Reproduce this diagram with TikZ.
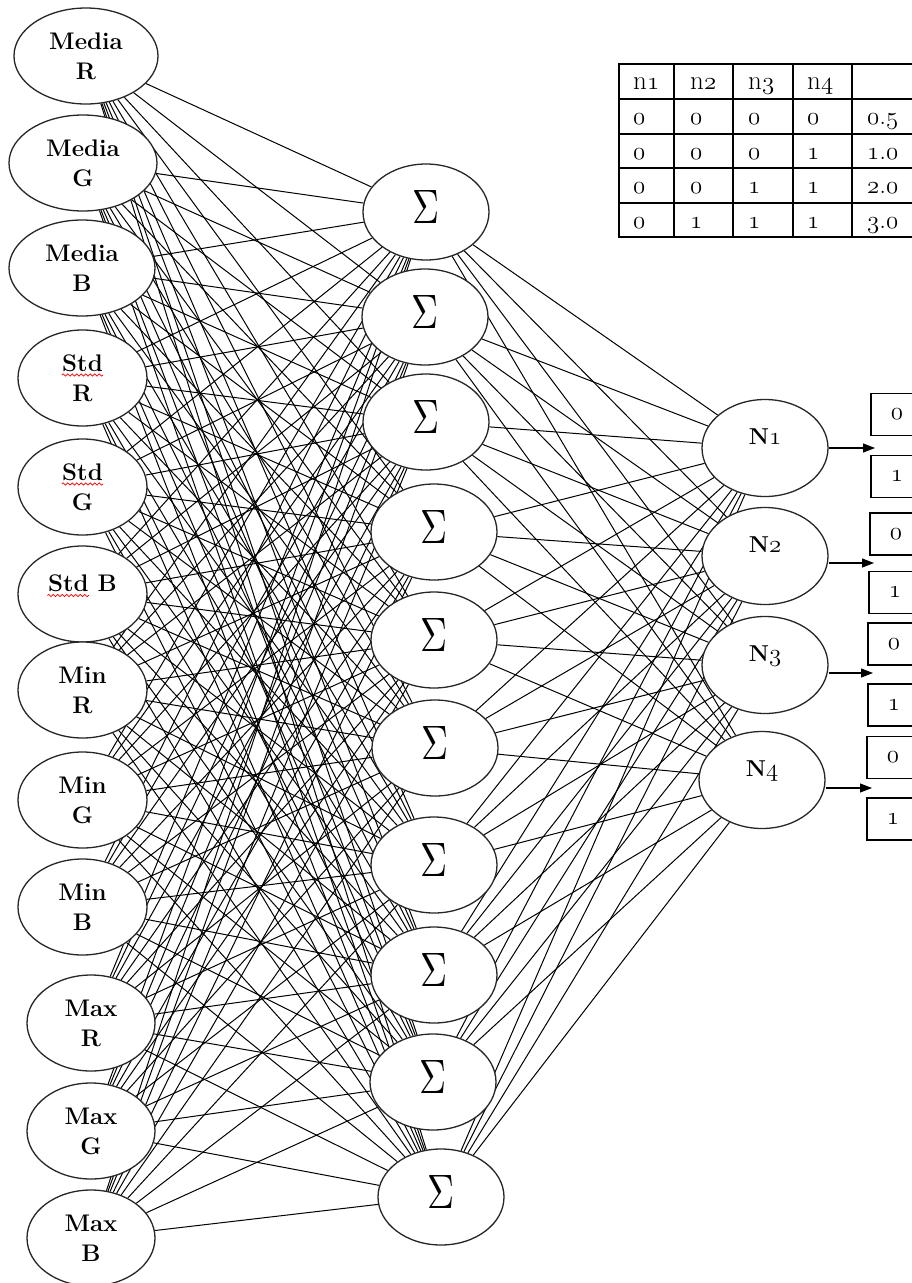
\documentclass[tikz,border=0pt]{standalone}
\usepackage{graphicx}
\usetikzlibrary{shapes.geometric,arrows.meta,backgrounds,decorations.pathmorphing}

% old-style figures taken from the (scalable) math italic fonts
\newcommand\osn[1]{{\usefont{OML}{lmm}{m}{it}#1}}
\newcommand\bosn[1]{{\usefont{OML}{lmm}{b}{it}#1}}
\newcommand\sumsign{{\fontsize{10}{12}\selectfont\scalebox{3.74}[4.83]{$\Sigma$}}}

\begin{document}
\begin{tikzpicture}[x=1pt,y=-1pt,
  ell/.style={ellipse, draw=black!85, line width=1.3pt, fill=white, inner sep=0pt,
    minimum width=129pt, minimum height=96pt, align=center,
    font=\fontsize{24}{30}\selectfont\bfseries},
  oneline/.style={text depth=22pt},
  sumnode/.style={ell, minimum width=126pt, text depth=10pt},
  outnode/.style={ell, minimum width=126pt, minimum height=97pt, text depth=22pt,
    font=\fontsize{23}{28}\selectfont\bfseries},
  link/.style={line width=1pt, black},
  spell/.style={red, line width=0.7pt, decorate,
    decoration={snake, amplitude=1.2pt, segment length=4.5pt}},
  outarrow/.style={line width=1.1pt, -{Triangle[length=12pt,width=9pt]}},
  bitbox/.style={draw, line width=1.5pt, anchor=west, minimum height=42pt,
    text width=24pt, inner xsep=20pt, inner ysep=0pt, align=left,
    font=\fontsize{23}{28}\selectfont\bfseries},
  grid/.style={line width=1.8pt},
  cell/.style={anchor=base west, inner sep=0pt, font=\fontsize{27}{30}\selectfont}
]
\useasboundingbox (0,0) rectangle (912,1283);
\clip (0,0) rectangle (912,1283);

% input layer
\node[ell, minimum width=144pt] (mR) at (86,56)  {Media\\R};
\node[ell, minimum width=148pt] (mG) at (83,163) {Media\\G};
\node[ell, minimum width=146pt] (mB) at (82,268) {Media\\B};
\node[ell] (sR) at (82.5,378) {Std\\R};
\node[ell] (sG) at (82.5,487) {Std\\G};
\node[ell, oneline] (sB) at (82.5,594) {Std B};
\node[ell] (nR) at (82.5,690) {Min\\R};
\node[ell] (nG) at (82.5,800) {Min\\G};
\node[ell] (nB) at (82.5,907) {Min\\B};
\node[ell, minimum width=128pt] (xR) at (91,1023) {Max\\R};
\node[ell, minimum width=128pt] (xG) at (91,1131) {Max\\G};
\node[ell, minimum width=128pt] (xB) at (91,1238) {Max\\B};

% spelling marks under "Std"
\draw[spell] ([xshift=-20.7pt,yshift=3pt]sR.center) -- ++(41.4,0);
\draw[spell] ([xshift=-20.7pt,yshift=3pt]sG.center) -- ++(41.4,0);
\draw[spell] ([xshift=-35.1pt,yshift=-1.5pt]sB.center) -- ++(41.4,0);

% hidden layer
\node[sumnode] (h1)  at (426,212)  {\sumsign};
\node[sumnode] (h2)  at (425,317)  {\sumsign};
\node[sumnode] (h3)  at (426,422)  {\sumsign};
\node[sumnode] (h4)  at (434,532)  {\sumsign};
\node[sumnode] (h5)  at (434,640)  {\sumsign};
\node[sumnode] (h6)  at (435,748)  {\sumsign};
\node[sumnode] (h7)  at (434,865)  {\sumsign};
\node[sumnode] (h8)  at (434,975)  {\sumsign};
\node[sumnode] (h9)  at (433,1082) {\sumsign};
\node[sumnode] (h10) at (441,1197) {\sumsign};

% output layer
\node[outnode] (o1) at (765,448) {N\bosn{1}};
\node[outnode] (o2) at (765,556) {N\bosn{2}};
\node[outnode] (o3) at (765,665) {N\bosn{3}};
\node[outnode] (o4) at (762,780) {N\bosn{4}};

% full connections, kept behind the neurons
\begin{scope}[on background layer]
  \foreach \i in {mR,mG,mB,sR,sG,sB,nR,nG,nB,xR,xG,xB}
    \foreach \j in {h1,h2,h3,h4,h5,h6,h7,h8,h9,h10}
      \draw[link] (\i) -- (\j);
  \foreach \j in {h1,h2,h3,h4,h5,h6,h7,h8,h9,h10}
    \foreach \k in {o1,o2,o3,o4}
      \draw[link] (\j) -- (\k);
\end{scope}

% binary outputs
\node[bitbox] (b1z) at (870,414.5) {\bosn{0}};
\node[bitbox] (b1o) at (870,476.5) {\bosn{1}};
\node[bitbox] (b2z) at (869,534)   {\bosn{0}};
\node[bitbox] (b2o) at (868,592.5) {\bosn{1}};
\node[bitbox] (b3z) at (867,644)   {\bosn{0}};
\node[bitbox] (b3o) at (867,705)   {\bosn{1}};
\node[bitbox] (b4z) at (866,757.5) {\bosn{0}};
\node[bitbox] (b4o) at (866,819)   {\bosn{1}};

\coordinate (t1) at (875,448);
\coordinate (t2) at (874,563);
\coordinate (t3) at (873,673);
\coordinate (t4) at (872,788);
\draw[outarrow] (o1.east |- t1) -- (t1);
\draw[outarrow] (o2.east |- t2) -- (t2);
\draw[outarrow] (o3.east |- t3) -- (t3);
\draw[outarrow] (o4.east |- t4) -- (t4);

% code table
\draw[grid] (619,64) rectangle (950,237);
\foreach \x in {674,733,793,852} \draw[grid] (\x,64) -- (\x,237);
\foreach \y in {99,134,168,203} \draw[grid] (619,\y) -- (950,\y);

\foreach \x/\d [count=\c] in {633/1,690/2,748/3,807/4}
  \node[cell] (t0-\c) at (\x,89.5) {n\osn{\d}};

\foreach \row/\a/\b/\cc/\d/\v [count=\r] in
  {99/0/0/0/0/{\osn{0}.\osn{5}},
   134/0/0/0/1/{\osn{1}.\osn{0}},
   168/0/0/1/1/{\osn{2}.\osn{0}},
   203/0/1/1/1/{\osn{3}.\osn{0}}}
{
  \node[cell] (t\r-1) at (633,\row+25) {\osn{\a}};
  \node[cell] (t\r-2) at (690,\row+25) {\osn{\b}};
  \node[cell] (t\r-3) at (748,\row+25) {\osn{\cc}};
  \node[cell] (t\r-4) at (807,\row+25) {\osn{\d}};
  \node[cell] (t\r-5) at (867,\row+25) {\v};
}
\end{tikzpicture}
\end{document}
